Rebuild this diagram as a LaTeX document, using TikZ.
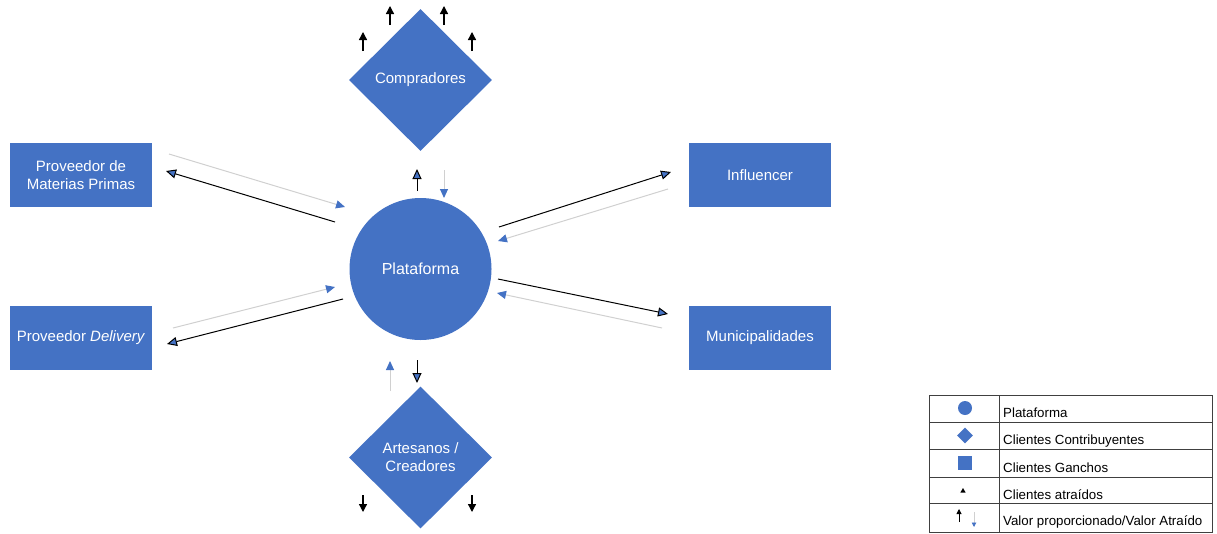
\documentclass[tikz,border=0pt]{standalone}
\usepackage{fontspec}
\setmainfont{Liberation Sans}
\usetikzlibrary{shapes.geometric,arrows.meta}
\definecolor{nblue}{HTML}{4472C4}
\definecolor{lgrey}{HTML}{D0D0D0}
\begin{document}
\begin{tikzpicture}[x=1pt,y=-1pt,
  box/.style={rectangle,fill=nblue,text=white,minimum width=142pt,minimum height=64pt,inner sep=0pt,align=center,font=\fontsize{15}{18}\selectfont},
  dia/.style={diamond,fill=nblue,text=white,minimum width=143pt,minimum height=142pt,inner sep=0pt,align=center,font=\fontsize{15}{18}\selectfont},
  circ/.style={circle,fill=nblue,text=white,minimum size=142pt,inner sep=0pt,font=\fontsize{16}{19}\selectfont},
  blk/.style={draw=black,line width=1pt,-{Triangle[width=9pt,length=10pt,fill=nblue]}},
  gry/.style={draw=lgrey,line width=1pt,-{Triangle[width=8pt,length=9pt,fill=nblue,color=nblue]}},
  small/.style={draw=black,line width=1.3pt,-{Triangle[width=8pt,length=8pt,fill=black]}},
  legtxt/.style={anchor=west,inner sep=0pt,font=\fontsize{13.3}{15}\selectfont}
]
\useasboundingbox (0,0) rectangle (1217,533);

% main nodes
\node[dia] (comp) at (420.5,80) {Compradores};
\node[circ] (plat) at (420.5,269) {Plataforma};
\node[dia] (arte) at (420.5,457.5) {Artesanos /\\Creadores};
\node[box] (prov) at (81,175) {Proveedor de\\Materias Primas};
\node[box] (deli) at (81,337.5) {Proveedor \textit{Delivery}};
\node[box] (infl) at (760,175) {Influencer};
\node[box] (muni) at (760,337.5) {Municipalidades};

% connector end points
\coordinate (a1) at (169,154); \coordinate (a2) at (345,207);
\coordinate (b1) at (335,222); \coordinate (b2) at (166,171);
\coordinate (c1) at (173,328); \coordinate (c2) at (335,287);
\coordinate (d1) at (343,299); \coordinate (d2) at (167,344);
\coordinate (e1) at (499,227); \coordinate (e2) at (671,172);
\coordinate (f1) at (668,189); \coordinate (f2) at (498,241);
\coordinate (g1) at (498,279); \coordinate (g2) at (668,314);
\coordinate (h1) at (662,328); \coordinate (h2) at (497,293);

\draw[gry] (a1) -- (a2);
\draw[blk] (b1) -- (b2);
\draw[gry] (c1) -- (c2);
\draw[blk] (d1) -- (d2);
\draw[blk] (e1) -- (e2);
\draw[gry] (f1) -- (f2);
\draw[blk] (g1) -- (g2);
\draw[gry] (h1) -- (h2);

% arrows above / below the platform
\coordinate (p1) at (417,191); \coordinate (p2) at (417,169);
\coordinate (q1) at (444,170); \coordinate (q2) at (444,198);
\coordinate (r1) at (390,391); \coordinate (r2) at (390,361);
\coordinate (s1) at (417,360); \coordinate (s2) at (417,383);
\draw[blk] (p1) -- (p2);
\draw[gry] (q1) -- (q2);
\draw[gry] (r1) -- (r2);
\draw[blk] (s1) -- (s2);

% small attracted-client arrows
\coordinate (t1) at (363,51); \coordinate (t2) at (363,32);
\coordinate (t3) at (390,25); \coordinate (t4) at (390,6);
\coordinate (t5) at (444,25); \coordinate (t6) at (444,6);
\coordinate (t7) at (472,51); \coordinate (t8) at (472,32);
\coordinate (u1) at (363,495); \coordinate (u2) at (363,512);
\coordinate (u3) at (472,495); \coordinate (u4) at (472,512);
\draw[small] (t1) -- (t2);
\draw[small] (t3) -- (t4);
\draw[small] (t5) -- (t6);
\draw[small] (t7) -- (t8);
\draw[small] (u1) -- (u2);
\draw[small] (u3) -- (u4);

% legend
\draw[draw=black!75,line width=0.7pt] (929,395) rectangle (1212,532);
\foreach \yy in {422,449,477,503} \draw[black!75,line width=0.7pt] (929,\yy) -- (1212,\yy);
\draw[black!75,line width=0.7pt] (999,395) -- (999,532);
\node[circle,fill=nblue,minimum size=14pt,inner sep=0pt] (l1) at (965,408) {};
\node[diamond,fill=nblue,minimum width=16pt,minimum height=16pt,inner sep=0pt] (l2) at (965,435.5) {};
\node[rectangle,fill=nblue,minimum size=14pt,inner sep=0pt] (l3) at (965,463) {};
\node[isosceles triangle,isosceles triangle apex angle=60,shape border rotate=90,fill=black,minimum size=4.5pt,inner sep=0pt] (l4) at (963,491) {};
\coordinate (v1) at (959,522); \coordinate (v2) at (959,509);
\coordinate (w1) at (974,512); \coordinate (w2) at (974,527);
\draw[draw=black,line width=0.9pt,-{Triangle[width=5pt,length=5pt,fill=black]}] (v1) -- (v2);
\draw[draw=lgrey,line width=0.9pt,-{Triangle[width=4.5pt,length=4.5pt,fill=nblue,color=nblue]}] (w1) -- (w2);
\node[legtxt] (n1) at (1003,413) {Plataforma};
\node[legtxt] (n2) at (1003,441) {Clientes Contribuyentes};
\node[legtxt] (n3) at (1003,468) {Clientes Ganchos};
\node[legtxt] (n4) at (1003,495) {Clientes atraídos};
\node[legtxt] (n5) at (1003,522) {Valor proporcionado/Valor Atraído};
\end{tikzpicture}
\end{document}
